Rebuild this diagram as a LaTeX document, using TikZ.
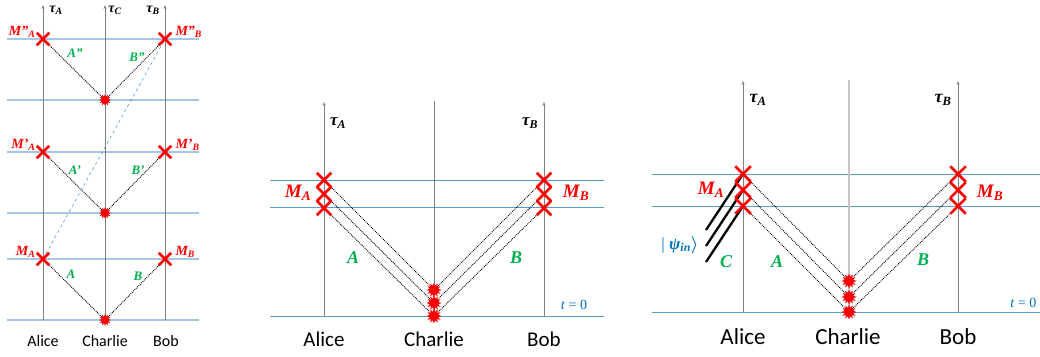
\documentclass[tikz,border=0pt]{standalone}
\usepackage{amsmath,amssymb}
\usepackage{fontspec}
\setmainfont{Liberation Serif}
\newfontfamily\namesfont{Carlito}
\usetikzlibrary{arrows.meta,shapes.misc,shapes.geometric}
\definecolor{lineblue}{RGB}{91,155,213}
\definecolor{paleblue}{RGB}{165,198,230}
\definecolor{labgreen}{RGB}{0,176,80}
\definecolor{ketblue}{RGB}{0,112,192}
\tikzset{
  paleline/.style={paleblue,line width=1.1pt},
  blueline/.style={lineblue,line width=0.9pt},
  axis/.style={draw=gray,line width=0.6pt},
  axisarrow/.style={axis,-{Stealth[length=4pt,width=3pt]}},
  photon/.style={densely dotted,line width=0.9pt},
  cline/.style={black,line width=2.3pt},
  xmark/.style={cross out,draw=red,line width=2.5pt,minimum size=#1,inner sep=0pt},
  burst/.style={star,star points=12,star point ratio=1.7,fill=red,minimum size=#1,inner sep=0pt},
  lbl/.style={font=\fontsize{#1}{#1}\selectfont\bfseries\itshape},
  namefont/.style={font=\namesfont\fontsize{#1}{#1}\selectfont}
}
\newcommand\lsub[2]{#1\textsubscript{#2}}
\begin{document}
\begin{tikzpicture}[x=1pt,y=-1pt]
\useasboundingbox (0,0) rectangle (1040,356);
% left panel: three rounds of swapping
\foreach \yy in {39,100,152,213,259,320} \draw[paleline] (7,\yy) -- (199,\yy);
\foreach \n/\x in {alice/43,charlie/105,bob/165} {
  \coordinate (\n1-bot) at (\x,320); \coordinate (\n1-top) at (\x,5);
  \draw[axisarrow] (\n1-bot) -- (\n1-top);
}
\foreach \i/\yx/\ys in {0/259/320,1/152/213,2/39/100} {
  \coordinate (a1-\i) at (43,\yx); \coordinate (b1-\i) at (165,\yx); \coordinate (c1-\i) at (105,\ys);
  \draw[photon] (a1-\i) -- (c1-\i) -- (b1-\i);
}
\draw[lineblue,dashed,line width=0.6pt] (a1-0) -- (b1-2);
\foreach \i in {0,1,2} {
  \node[xmark=10pt] at (a1-\i) {}; \node[xmark=10pt] at (b1-\i) {}; \node[burst=12pt] at (c1-\i) {};
}
\node[lbl=14pt] (tauA1) at (56,10) {\lsub{τ}{A}}; \node[lbl=14pt] (tauC1) at (115,10) {\lsub{τ}{C}}; \node[lbl=14pt] (tauB1) at (153,10) {\lsub{τ}{B}};
\node[lbl=14pt,red,anchor=east] (MA12) at (39,32) {\lsub{M''}{A}}; \node[lbl=14pt,red,anchor=west] (MB12) at (172,32) {\lsub{M''}{B}};
\node[lbl=14pt,red,anchor=east] (MA11) at (39,145) {\lsub{M'}{A}}; \node[lbl=14pt,red,anchor=west] (MB11) at (172,145) {\lsub{M'}{B}};
\node[lbl=14pt,red,anchor=east] (MA10) at (39,252) {\lsub{M}{A}}; \node[lbl=14pt,red,anchor=west] (MB10) at (172,252) {\lsub{M}{B}};
\node[lbl=13pt,labgreen] (A12) at (75,53) {A''}; \node[lbl=13pt,labgreen] (B12) at (137,57) {B''};
\node[lbl=13pt,labgreen] (A11) at (75,170) {A'}; \node[lbl=13pt,labgreen] (B11) at (138,170) {B'};
\node[lbl=13pt,labgreen] (A10) at (71,274) {A}; \node[lbl=13pt,labgreen] (B10) at (138,276) {B};
\node[namefont=16pt] (alice1) at (43,341) {Alice}; \node[namefont=16pt] (charlie1) at (105,341) {Charlie}; \node[namefont=16pt] (bob1) at (166,341) {Bob};
% middle panel: three pairs at once
\foreach \yy in {180,207,316} \draw[blueline] (270,\yy) -- (604,\yy);
\foreach \n/\x in {alice/324,bob/544} {
  \coordinate (\n2-bot) at (\x,316); \coordinate (\n2-top) at (\x,102);
  \draw[axisarrow] (\n2-bot) -- (\n2-top);
}
\coordinate (charlie2-bot) at (434,316); \coordinate (charlie2-top) at (434,101);
\draw[axis] (charlie2-bot) -- (charlie2-top);
\foreach \i/\yx/\ys in {0/180/290,1/194/303,2/208/316} {
  \coordinate (a2-\i) at (324,\yx); \coordinate (b2-\i) at (544,\yx); \coordinate (c2-\i) at (434,\ys);
  \draw[photon] (a2-\i) -- (c2-\i) -- (b2-\i);
}
\foreach \i in {0,1,2} {
  \node[xmark=12pt] at (a2-\i) {}; \node[xmark=12pt] at (b2-\i) {}; \node[burst=15pt] at (c2-\i) {};
}
\node[lbl=17pt] (tauA2) at (338,123) {\lsub{τ}{A}}; \node[lbl=17pt] (tauB2) at (530,123) {\lsub{τ}{B}};
\node[lbl=19pt,red] (MA2) at (298,193) {\lsub{M}{A}}; \node[lbl=19pt,red] (MB2) at (576,193) {\lsub{M}{B}};
\node[lbl=18pt,labgreen] (A2) at (353,258) {A}; \node[lbl=18pt,labgreen] (B2) at (516,258) {B};
\node[font=\fontsize{14pt}{14pt}\selectfont,ketblue] (t2) at (574,305) {\textit{t} = 0};
\node[namefont=21pt] (alice2) at (324,339) {Alice}; \node[namefont=21pt] (charlie2) at (434,339) {Charlie}; \node[namefont=21pt] (bob2) at (544,339) {Bob};
% right panel: Alice also measures C
\foreach \yy in {174,206,312} \draw[blueline] (652,\yy) -- (1040,\yy);
\foreach \n/\x in {alice/743,bob/958} {
  \coordinate (\n3-bot) at (\x,312); \coordinate (\n3-top) at (\x,81);
  \draw[axisarrow] (\n3-bot) -- (\n3-top);
}
\coordinate (charlie3-bot) at (849,312); \coordinate (charlie3-top) at (849,80);
\draw[gray!45,line width=1.4pt] (charlie3-bot) -- (charlie3-top);
\foreach \i/\yx/\ys in {0/174/281,1/190/297,2/206/312} {
  \coordinate (a3-\i) at (743,\yx); \coordinate (b3-\i) at (958,\yx); \coordinate (c3-\i) at (849,\ys);
  \coordinate (in3-\i) at (706,{\yx+56});
  \draw[photon] (a3-\i) -- (c3-\i) -- (b3-\i);
  \draw[cline] (in3-\i) -- (a3-\i);
}
\foreach \i in {0,1,2} {
  \node[xmark=13pt] at (a3-\i) {}; \node[xmark=13pt] at (b3-\i) {}; \node[burst=15pt] at (c3-\i) {};
}
\node[lbl=18pt] (tauA3) at (758,100) {\lsub{τ}{A}}; \node[lbl=18pt] (tauB3) at (943,100) {\lsub{τ}{B}};
\node[lbl=19pt,red] (MA3) at (711,190) {\lsub{M}{A}}; \node[lbl=19pt,red] (MB3) at (990,193) {\lsub{M}{B}};
\node[lbl=18pt,labgreen] (C3) at (726,262) {C}; \node[lbl=18pt,labgreen] (A3) at (777,262) {A}; \node[lbl=18pt,labgreen] (B3) at (923,260) {B};
\node[font=\fontsize{17pt}{17pt}\selectfont,ketblue] (psi3) at (680,245) {| \textbf{\textit{ψ}}\textsubscript{\textbf{\textit{in}}}$\boldsymbol{\rangle}$};
\node[font=\fontsize{14pt}{14pt}\selectfont,ketblue,anchor=east] (t3) at (1040,303) {\textit{t} = 0};
\node[namefont=23pt] (alice3) at (743,337) {Alice}; \node[namefont=23pt] (charlie3) at (848,337) {Charlie}; \node[namefont=23pt] (bob3) at (958,337) {Bob};
\end{tikzpicture}
\end{document}
